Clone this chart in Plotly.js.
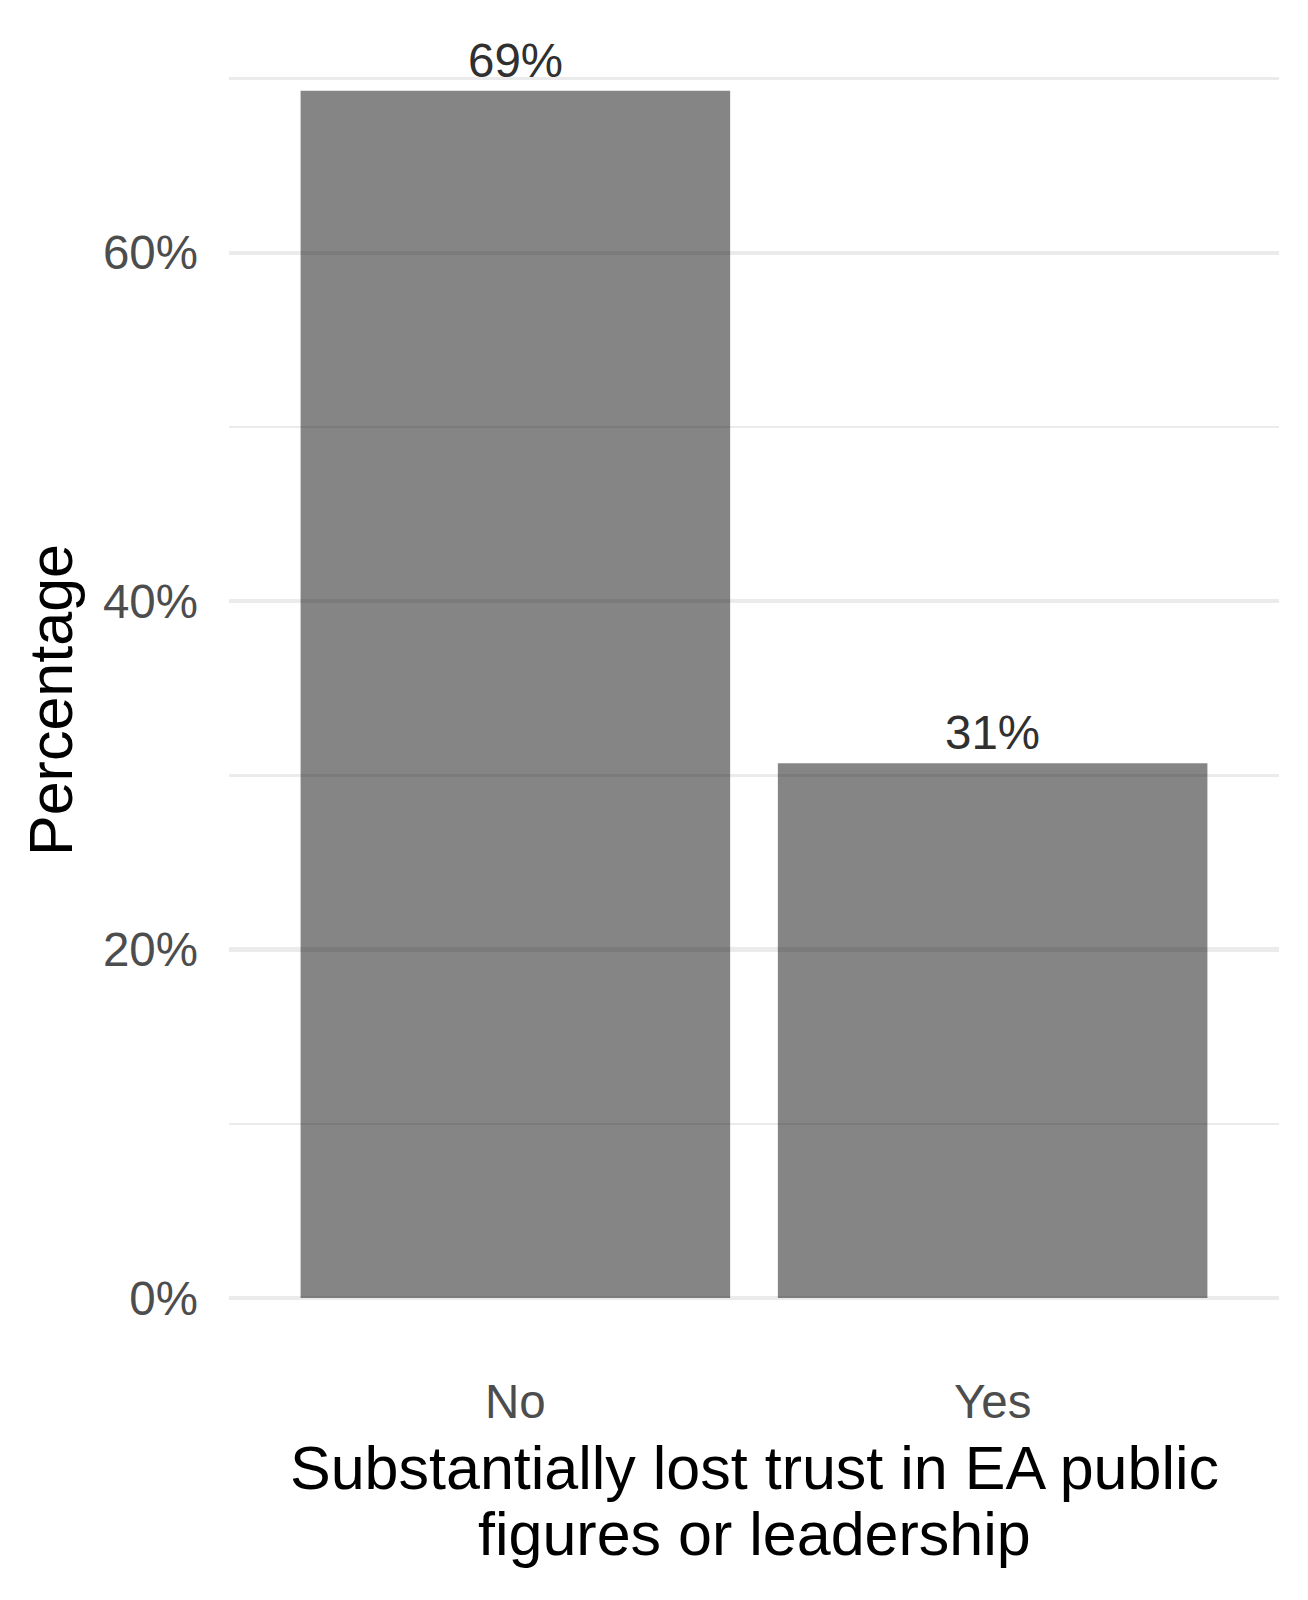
<!DOCTYPE html>
<html>
<head>
<meta charset="utf-8">
<script src="https://cdn.plot.ly/plotly-3.0.1.min.js"></script>
<style>html,body{margin:0;padding:0;background:#fff;}</style>
</head>
<body>
<div id="chart" style="width:1308px;height:1600px;"></div>
<script>
const categories = ["No", "Yes"];
const percentages = [69.3, 30.7];
const valueLabels = ["69%", "31%"];
const yTickValues = [0, 20, 40, 60];
const yTickLabels = ["0%", "20%", "40%", "60%"];
const xTitleLines = ["Substantially lost trust in EA public", "figures or leadership"];
const yTitle = "Percentage";

const FONT = "Liberation Sans, Arial, Helvetica, sans-serif";

const trace = {
  type: "bar",
  x: categories,
  y: percentages,
  width: 0.9,
  marker: { color: "rgba(0,0,0,0.48)", line: { width: 0 } },
  hoverinfo: "x+y"
};

const valueAnnotations = categories.map((c, i) => ({
  x: c, y: percentages[i], xref: "x", yref: "y",
  text: valueLabels[i], showarrow: false,
  yanchor: "bottom", yshift: 2,
  font: { family: FONT, size: 47.5, color: "#303030" }
}));

const titleShifts = [-109, -175];
const titleAnnotations = xTitleLines.map((t, i) => ({
  x: 0.5, y: 0, xref: "paper", yref: "paper",
  text: t, showarrow: false,
  xanchor: "center", yanchor: "middle", yshift: titleShifts[i],
  font: { family: FONT, size: 61, color: "#000000" }
}));

const layout = {
  width: 1308, height: 1600,
  margin: { l: 229, r: 29, t: 41, b: 241 },
  paper_bgcolor: "#ffffff", plot_bgcolor: "#ffffff",
  showlegend: false,
  bargap: 0.1,
  xaxis: {
    type: "category",
    range: [-0.6, 1.6],
    showgrid: false, zeroline: false, showline: false,
    ticks: "",
    tickfont: { family: FONT, size: 47.5, color: "#4d4d4d" },
    ticklabelstandoff: 10,
    automargin: false
  },
  yaxis: {
    range: [-3.5, 72.16],
    tickvals: yTickValues, ticktext: yTickLabels,
    showgrid: true, gridcolor: "#ebebeb", gridwidth: 4.5,
    minor: { dtick: 10, tick0: 0, showgrid: true, gridcolor: "#ebebeb", gridwidth: 2.5, ticks: "" },
    zeroline: false, showline: false,
    ticks: "",
    ticklabelstandoff: 30,
    tickfont: { family: FONT, size: 47.5, color: "#4d4d4d" },
    title: {
      text: yTitle,
      font: { family: FONT, size: 61, color: "#000000" },
      standoff: 10
    },
    automargin: false
  },
  annotations: valueAnnotations.concat(titleAnnotations)
};

Plotly.newPlot("chart", [trace], layout, { displayModeBar: false, staticPlot: true });
</script>
</body>
</html>
